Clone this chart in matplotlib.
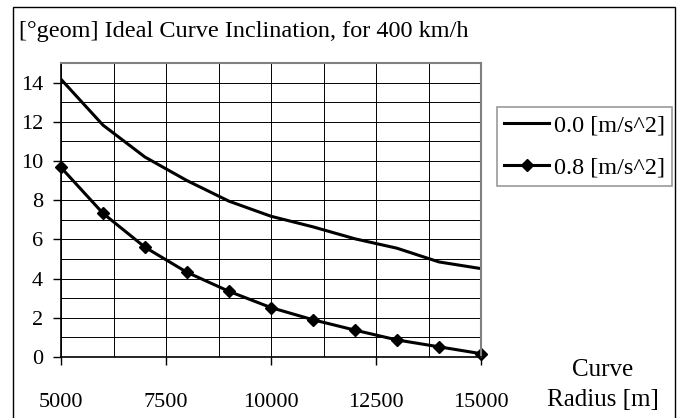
import numpy as np
import matplotlib.pyplot as plt
from matplotlib.patches import Rectangle
from matplotlib.ticker import MultipleLocator

plt.rcParams['font.family'] = ['Liberation Serif', 'DejaVu Serif']

# Curve radius [m]
radius = [5000, 6000, 7000, 8000, 9000, 10000, 11000, 12000, 13000, 14000, 15000]
# Ideal inclination [deg geom] at 400 km/h
incl_00 = [14.17, 11.83, 10.2, 9.0, 7.95, 7.18, 6.64, 6.03, 5.55, 4.85, 4.51]
incl_08 = [9.67, 7.33, 5.6, 4.32, 3.35, 2.52, 1.9, 1.37, 0.87, 0.52, 0.17]
labels = ['0.0 [m/s^2]', '0.8 [m/s^2]']

W, H = 687, 418
fig = plt.figure(figsize=(W / 100, H / 100), dpi=100)

# outer chart frame (bottom edge runs off the picture)
fig.patches.append(Rectangle((13 / W, -10 / H), (675 - 13) / W, (H - 7 + 10) / H,
                             transform=fig.transFigure, fill=False,
                             edgecolor='black', linewidth=1.0))

ax = fig.add_axes([61 / W, 1 - 357 / H, (481 - 61) / W, (357 - 63) / H])

ax.plot(radius, incl_00, color='black', linewidth=2.2, label=labels[0])
ax.plot(radius, incl_08, color='black', linewidth=2.2, marker='D',
        markersize=6.5, label=labels[1], clip_on=False)

ax.set_xlim(5000, 15000)
ax.set_ylim(0, 15)
ax.xaxis.set_major_locator(MultipleLocator(2500))
ax.xaxis.set_minor_locator(MultipleLocator(1250))
ax.yaxis.set_minor_locator(MultipleLocator(1))
ax.set_yticks(np.arange(0, 15, 2))

ax.grid(True, which='both', color='black', linewidth=0.7)
ax.set_axisbelow(True)
ax.tick_params(which='major', direction='out', length=6, width=1,
               labelsize=16)
ax.tick_params(axis='y', pad=7)
ax.tick_params(axis='x', pad=20)
ax.tick_params(which='minor', length=0)

for side in ['top', 'right']:
    ax.spines[side].set_color('#808080')
    ax.spines[side].set_linewidth(1.5)
for side in ['left', 'bottom']:
    ax.spines[side].set_color('black')
    ax.spines[side].set_linewidth(1.2)

fig.text(19 / W, 1 - 31 / H, '[°geom] Ideal Curve Inclination, for 400 km/h',
         fontsize=17.5, va='center', ha='left')

fig.text(603 / W, 1 - 370 / H, 'Curve', fontsize=18, ha='center', va='center')
fig.text(603 / W, 1 - 400 / H, 'Radius [m]', fontsize=18, ha='center', va='center')

leg = ax.legend(loc='upper left', bbox_to_anchor=(497 / W, 1 - 107 / H),
                bbox_transform=fig.transFigure, fontsize=17.5, frameon=True,
                fancybox=False, edgecolor='#808080', handlelength=1.85,
                handletextpad=0.2, borderpad=0.3, labelspacing=0.85,
                borderaxespad=0)
leg.get_frame().set_linewidth(1.2)

plt.savefig('out.png', dpi=100)
